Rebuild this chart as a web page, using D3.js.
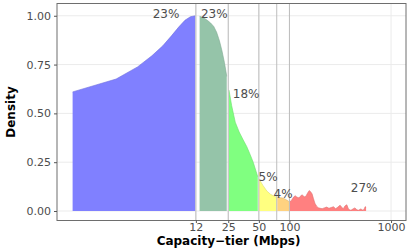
<!DOCTYPE html>
<html>
<head>
<meta charset="utf-8">
<script src="https://cdn.jsdelivr.net/npm/d3@7"></script>
<style>
  body { margin: 0; background: #fff; }
  text { font-family: "DejaVu Sans", sans-serif; }
</style>
</head>
<body>
<div id="chart"></div>
<script>
// Density curve (x in Mbps, scaled density)
var densX = [0.735, 1.97, 3.2, 4.43, 5.67, 6.9, 8.13, 9.37, 10.6, 11.83,
    13.06, 14.29, 15.53, 16.76, 17.99, 19.22, 20.46, 21.69, 22.92, 24.16,
    25.4, 27, 29.3, 32, 35.1, 38, 41, 44, 46.5, 48.8,
    50.06, 55, 60, 65, 70, 74.7,
    75.9, 82, 86, 90, 94, 99.4,
    100.6, 105, 110, 114, 118, 122, 126, 130, 134, 138, 142, 146, 152, 157, 162, 167, 172, 178,
    185, 192, 200, 210, 220, 232, 245, 258, 271, 285, 300, 315, 325, 339, 352, 367, 380,
    395, 410, 425, 442, 460, 480, 500, 515, 530, 545, 556, 568];
var densY = [0.61, 0.676, 0.738, 0.795, 0.846, 0.897, 0.942, 0.977, 0.995, 1.0,
    0.997, 0.99, 0.977, 0.963, 0.945, 0.915, 0.872, 0.82, 0.76, 0.69,
    0.62, 0.54, 0.455, 0.405, 0.364, 0.33, 0.29, 0.25, 0.21, 0.175,
    0.165, 0.13, 0.102, 0.086, 0.077, 0.071,
    0.07, 0.068, 0.066, 0.062, 0.056, 0.048,
    0.047, 0.055, 0.072, 0.078, 0.072, 0.068, 0.07, 0.08, 0.082, 0.076, 0.072, 0.078, 0.095, 0.105, 0.098, 0.088, 0.065, 0.04,
    0.025, 0.017, 0.014, 0.012, 0.016, 0.02, 0.014, 0.018, 0.022, 0.012, 0.02, 0.03, 0.02, 0.012, 0.026, 0.032, 0.012,
    0.004, 0.006, 0.012, 0.016, 0.006, 0.004, 0.01, 0.008, 0.003, 0.012, 0.022, 0.02];

// Capacity tiers
var tierBreaks = [0, 12, 25, 50, 75, 100, 10000];
var tierColors = ["#8080ff", "#95c4a9", "#80ff80", "#ffff80", "#ffd280", "#ff8080"];
var vlines = [12, 25, 50, 75, 100];

// Share labels
var labelText = ["23%", "23%", "18%", "5%", "4%", "27%"];
var labelX = [6.1, 18.2, 37.5, 61.7, 86.7, 543];
var labelY = [1.009, 1.009, 0.599, 0.172, 0.087, 0.12];

var xTicks = [12, 25, 50, 100, 1000];
var yTicks = [0, 0.25, 0.5, 0.75, 1];

var margin = {top: 3.5, right: 5, bottom: 28.5, left: 57},
    width = 411 - margin.left - margin.right,
    height = 249 - margin.top - margin.bottom;

var svg = d3.select("#chart").append("svg")
    .attr("width", 411)
    .attr("height", 249)
    .append("g")
    .attr("transform", `translate(${margin.left},${margin.top})`);

var x = d3.scaleLog()
    .domain([0.516, 1403])
    .range([0, width]);

var y = d3.scaleLinear()
    .domain([-0.0486, 1.0628])
    .range([height, 0]);

// Grid
svg.selectAll(".hgrid").data(yTicks).join("line")
    .attr("x1", 0).attr("x2", width)
    .attr("y1", d => y(d)).attr("y2", d => y(d))
    .attr("stroke", "#ebebeb").attr("stroke-width", 1);

svg.selectAll(".vgrid").data(xTicks).join("line")
    .attr("y1", 0).attr("y2", height)
    .attr("x1", d => x(d)).attr("x2", d => x(d))
    .attr("stroke", "#ebebeb").attr("stroke-width", 1);

// Areas per tier
var pts = densX.map((d, i) => ({x: d, y: densY[i]}));

var area = d3.area()
    .x(d => x(d.x))
    .y0(y(0))
    .y1(d => y(d.y));

var line = d3.line()
    .x(d => x(d.x))
    .y(d => y(d.y));

tierColors.forEach(function(c, i) {
    var seg = pts.filter(d => d.x >= tierBreaks[i] && d.x < tierBreaks[i + 1]);
    svg.append("path")
        .datum(seg)
        .attr("d", area)
        .attr("fill", c);
    svg.append("path")
        .datum(seg)
        .attr("d", line)
        .attr("fill", "none")
        .attr("stroke", d3.color(c).darker(0.4))
        .attr("stroke-width", 0.6);
});

// Tier lines
svg.selectAll(".vline").data(vlines).join("line")
    .attr("y1", 0).attr("y2", height)
    .attr("x1", d => x(d)).attr("x2", d => x(d))
    .attr("stroke", "#bdbdbd").attr("stroke-width", 1);

// Labels
svg.selectAll(".lbl").data(labelText).join("text")
    .attr("x", (d, i) => x(labelX[i]))
    .attr("y", (d, i) => y(labelY[i]))
    .attr("text-anchor", "middle")
    .attr("dominant-baseline", "central")
    .attr("font-size", "12px")
    .attr("fill", "#4d4d4d")
    .text(d => d);

// Panel border
svg.append("rect")
    .attr("width", width).attr("height", height)
    .attr("fill", "none")
    .attr("stroke", "#6e6e6e").attr("stroke-width", 1);

// Axes
var xAxis = svg.append("g")
    .attr("transform", `translate(0,${height})`)
    .call(d3.axisBottom(x).tickValues(xTicks).tickFormat(d3.format("d")).tickSize(2.5).tickPadding(0.5));

var yAxis = svg.append("g")
    .call(d3.axisLeft(y).tickValues(yTicks).tickFormat(d3.format(".2f")).tickSize(3).tickPadding(3));

[xAxis, yAxis].forEach(function(a) {
    a.select(".domain").remove();
    a.selectAll("line").attr("stroke", "#555");
    a.selectAll("text")
        .attr("font-size", "11px")
        .attr("font-family", "DejaVu Sans, sans-serif")
        .attr("fill", "#4d4d4d");
});

// Axis titles
svg.append("text")
    .attr("x", width / 2 - 3)
    .attr("y", height + 24.5)
    .attr("text-anchor", "middle")
    .attr("font-size", "12px")
    .attr("font-weight", "bold")
    .attr("fill", "#000")
    .text("Capacity\u2212tier (Mbps)");

svg.append("text")
    .attr("transform", `translate(${15 - margin.left},${height / 2}) rotate(-90)`)
    .attr("text-anchor", "middle")
    .attr("font-size", "12px")
    .attr("font-weight", "bold")
    .attr("fill", "#000")
    .text("Density");
</script>
</body>
</html>
